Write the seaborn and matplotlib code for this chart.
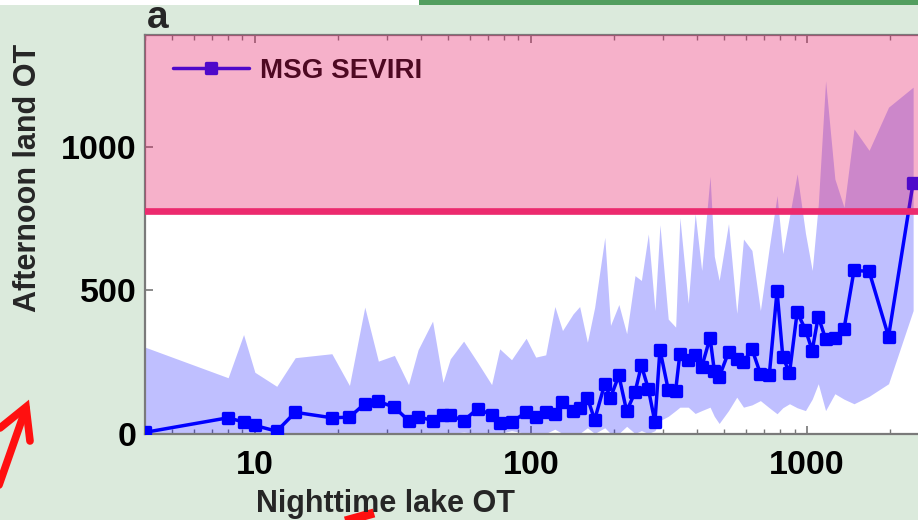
import numpy as np
import pandas as pd
import matplotlib
matplotlib.use("Agg")
import matplotlib.pyplot as plt
from matplotlib.lines import Line2D
from matplotlib.markers import MarkerStyle
from matplotlib.patches import Rectangle
import seaborn as sns

# Binned nighttime lake OT counts vs. afternoon land OT counts
night_ot = [4, 8.0, 9.1, 10, 12, 14, 19, 22, 25, 28, 32, 36, 39, 44, 48, 51, 57,
            64, 72, 77, 85, 96, 104, 113, 122, 130, 142, 150, 160, 170, 185, 194,
            208, 222, 238, 251, 266, 281, 293, 314, 334, 346, 371, 393, 415, 445,
            461, 480, 519, 556, 588, 631, 677, 729, 778, 816, 863, 920, 986, 1043,
            1097, 1166, 1260, 1360, 1478, 1676, 1971, 2420]
land_ot = [4, 55, 40, 28, 8, 74, 55, 57, 104, 112, 92, 45, 59, 45, 63, 63, 45,
           86, 66, 36, 40, 74, 59, 74, 69, 109, 78, 90, 125, 48, 174, 125,
           203, 78, 144, 238, 156, 40, 293, 153, 150, 279, 258, 276, 232, 335,
           220, 197, 284, 261, 249, 296, 209, 203, 498, 269, 211, 424, 363, 290,
           409, 331, 335, 366, 570, 567, 339, 877]
land_upper = [302, 195, 346, 214, 165, 265, 279, 168, 442, 253, 273, 171, 293, 393,
              179, 261, 323, 249, 171, 296, 258, 333, 267, 275, 444, 360, 418, 444,
              319, 441, 686, 378, 451, 349, 552, 535, 698, 430, 730, 400, 372, 755,
              455, 769, 570, 900, 620, 535, 734, 420, 680, 640, 430, 650, 832, 629,
              760, 908, 700, 570, 800, 1234, 890, 791, 1065, 990, 1141, 1211]
land_lower = [0, 0, 0, 0, 0, 0, 0, 0, 0, 0, 0, 0, 0, 0, 0, 0, 5, 0, 0, 0, 10, 0,
              0, 0, 15, 0, 0, 0, 20, 0, 20, 0, 0, 25, 0, 10, 0, 10, 45, 60, 80, 92,
              92, 70, 80, 92, 60, 35, 80, 127, 92, 100, 115, 90, 69, 90, 104, 90,
              80, 120, 174, 80, 139, 120, 104, 130, 174, 430]
threshold = 777
series_name = "MSG SEVIRI"
x_tick_values = [10, 100, 1000]
x_tick_labels = ["10", "100", "1000"]
y_tick_values = [0, 500, 1000]
y_tick_labels = ["0", "500", "1000"]

df = pd.DataFrame({"night": night_ot, "land": land_ot,
                   "upper": land_upper, "lower": land_lower})

sns.set_theme(style="ticks")
plt.rcParams["font.family"] = ["Liberation Sans", "DejaVu Sans"]
plt.rcParams["font.weight"] = "bold"

bg = "#dbeadc"
W, H = 918, 520
fig = plt.figure(figsize=(W / 100, H / 100), dpi=100, facecolor=bg)


def fx(px):
    return px / W


def fy(py):
    return 1 - py / H


ax = fig.add_axes([fx(145), fy(433.5), fx(773), 399 / H])
ax.set_facecolor("white")

ax.fill_between(df["night"], df["lower"], df["upper"], color="blue",
                alpha=0.25, lw=0, zorder=1)
rounded_square = MarkerStyle("s", joinstyle="round")
sns.lineplot(data=df, x="night", y="land", ax=ax, sort=False, color="#0000ff",
             marker=rounded_square, markersize=6.8, markeredgewidth=2.4,
             markeredgecolor="#0000ff", linewidth=2.5, label=series_name,
             zorder=3)

ax.set_xscale("log")
ax.set_xlim(4, 2520)
ax.set_ylim(0, 1395)

leg = ax.legend(loc="center left", bbox_to_anchor=(0.036, 0.9085),
                frameon=False, fontsize=20, handlelength=2.75,
                handletextpad=0.4, borderpad=0, borderaxespad=0)
for t in leg.get_texts():
    t.set_fontweight("bold")
    t.set_color("black")

# Shaded region above the threshold, laid over the data
ax.axhspan(threshold, 1395, color="#e71c66", alpha=0.34, lw=0, zorder=8)
ax.axhline(threshold, color="#ec2a6e", lw=4.8, zorder=9)

ax.set_xticks(x_tick_values)
ax.set_xticklabels(x_tick_labels)
ax.set_yticks(y_tick_values)
ax.set_yticklabels(y_tick_labels)
ax.tick_params(axis="both", which="both", direction="in", colors="#777777",
               labelcolor="black", top=True, right=False)
ax.tick_params(axis="x", which="major", length=6, width=1.2, pad=12,
               labelsize=24.5)
ax.tick_params(axis="x", which="minor", length=3.5, width=1.0)
ax.tick_params(axis="y", which="major", length=6, width=1.2, pad=6,
               labelsize=24.5)
for lab in ax.get_xticklabels() + ax.get_yticklabels():
    lab.set_fontweight("bold")

for side in ["left", "bottom", "top"]:
    ax.spines[side].set_color("#7a7a7a")
    ax.spines[side].set_linewidth(1.6)
ax.spines["right"].set_visible(False)

ax.set_xlabel("")
ax.set_ylabel("")
fig.text(fx(386), fy(512), "Nighttime lake OT", ha="center", va="baseline",
         fontsize=22, fontweight="bold")
fig.text(fx(28), fy(178), "Afternoon land OT", ha="center", va="center",
         rotation=90, fontsize=22, fontweight="bold")
fig.text(fx(147), fy(28), "a", ha="left", va="baseline", fontsize=28,
         fontweight="bold")

# Strip along the top edge
fig.add_artist(Rectangle((0, fy(5)), fx(419), 5 / H, transform=fig.transFigure,
                         color="white", lw=0))
fig.add_artist(Rectangle((fx(419), fy(5)), 1 - fx(419), 5 / H,
                         transform=fig.transFigure, color="#529e5f", lw=0))

# Red arrows
red = "#ff1010"
fig.add_artist(Line2D([fx(-8), fx(26)], [fy(505), fy(408)],
                      transform=fig.transFigure, color=red, lw=5.5,
                      solid_capstyle="round"))
fig.add_artist(Line2D([fx(0), fx(26), fx(30)], [fy(428), fy(407), fy(441)],
                      transform=fig.transFigure, color=red, lw=5.5,
                      solid_capstyle="round", solid_joinstyle="miter"))
fig.add_artist(Line2D([fx(338), fx(374)], [fy(523), fy(513)],
                      transform=fig.transFigure, color=red, lw=6.5,
                      solid_capstyle="butt"))

fig.savefig("out.png", dpi=100, facecolor=bg)
